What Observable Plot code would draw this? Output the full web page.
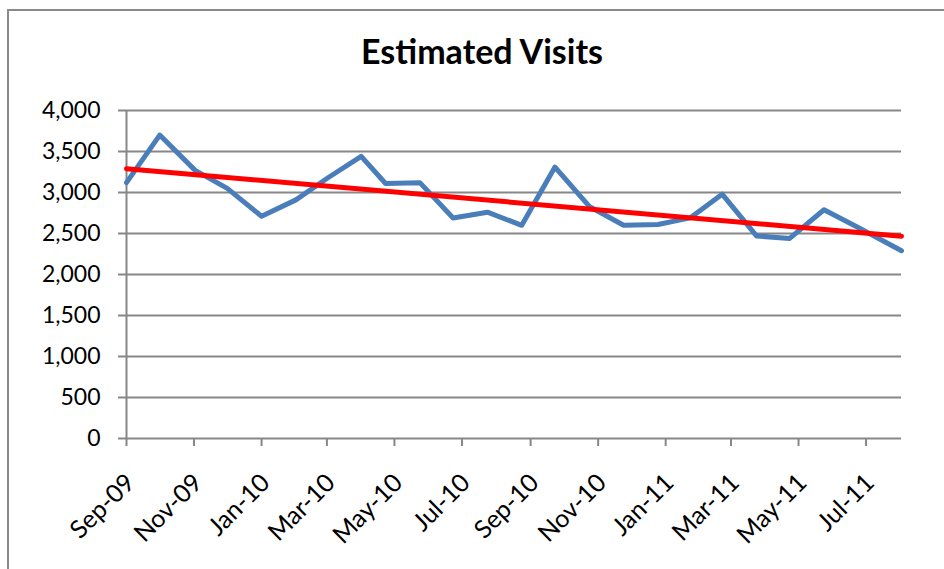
<!DOCTYPE html>
<html><head><meta charset="utf-8">
<script src="https://cdn.jsdelivr.net/npm/d3@7"></script>
<script src="https://cdn.jsdelivr.net/npm/@observablehq/plot@0.6"></script>
<style>
html,body{margin:0;padding:0;background:#fff;}
#wrap{position:relative;width:944px;height:569px;overflow:hidden;font-family:Lato,sans-serif;}
#frame{position:absolute;left:7px;top:9px;width:1000px;height:700px;border:2px solid #8a8a8a;box-sizing:border-box;}
#title{position:absolute;left:0;width:964px;top:31px;text-align:center;font-family:Lato,sans-serif;font-weight:bold;font-size:34px;line-height:1.2;color:#000;}
#chart{position:absolute;left:0;top:0;}
</style></head><body>
<div id="wrap"><div id="frame"></div><div id="title">Estimated Visits</div><div id="chart"></div></div>
<script>
const dates = ["2009-09-01","2009-10-01","2009-11-02","2009-12-01","2010-01-01","2010-02-01","2010-03-02","2010-04-01","2010-04-23","2010-05-24","2010-06-23","2010-07-24","2010-08-24","2010-09-23","2010-10-24","2010-11-24","2010-12-25","2011-01-23","2011-02-21","2011-03-24","2011-04-23","2011-05-24","2011-06-23","2011-08-02"];
const visits = [3120,3700,3270,3050,2710,2910,3180,3440,3110,3120,2690,2760,2600,3310,2830,2600,2610,2690,2980,2470,2440,2790,2580,2290];
const tickDates = ["2009-09-01","2009-11-01","2010-01-01","2010-03-01","2010-05-01","2010-07-01","2010-09-01","2010-11-01","2011-01-01","2011-03-01","2011-05-01","2011-07-01"];
const yTicks = [0,500,1000,1500,2000,2500,3000,3500,4000];

const toDate = s => new Date(s + "T00:00:00Z");
const data = dates.map((d, i) => ({date: toDate(d), visits: visits[i]}));
const xTicks = tickDates.map(toDate);
const gray = "#878787";

const chart = Plot.plot({
  width: 944, height: 569,
  marginLeft: 126, marginRight: 43, marginTop: 110, marginBottom: 131,
  style: {fontFamily: "Lato, sans-serif", fontSize: "24px", color: "#000", background: "transparent", overflow: "visible"},
  x: {type: "utc", domain: [data[0].date, data[data.length - 1].date]},
  y: {domain: [0, 4000]},
  marks: [
    Plot.gridY(yTicks, {stroke: gray, strokeOpacity: 1, strokeWidth: 2}),
    Plot.ruleX([data[0].date], {stroke: gray, strokeWidth: 2}),
    Plot.axisY(yTicks, {tickSize: 8, tickPadding: 18, fontSize: 23, tickFormat: d3.format(","), stroke: gray, strokeWidth: 2, fill: "#000", label: null}),
    Plot.axisX(xTicks, {tickSize: 8, tickFormat: () => "", stroke: gray, strokeWidth: 2, label: null}),
    Plot.axisX(xTicks, {tickSize: 0, tickPadding: 20, dx: 4, dy: 20, fontSize: 25, tickRotate: -45, tickFormat: d3.utcFormat("%b-%y"), fill: "#000", label: null}),
    Plot.line(data, {x: "date", y: "visits", stroke: "#4a7ebb", strokeWidth: 5}),
    Plot.linearRegressionY(data, {x: "date", y: "visits", stroke: "#ff0000", strokeWidth: 5, ci: 0})
  ]
});
document.getElementById("chart").appendChild(chart);
</script>
</body></html>
